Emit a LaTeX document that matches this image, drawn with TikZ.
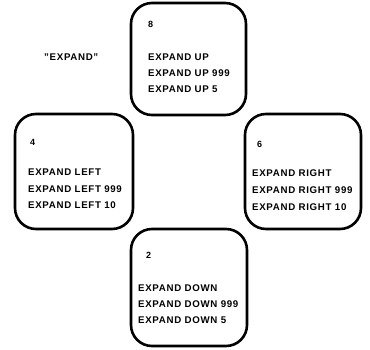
\documentclass[tikz,border=0pt]{standalone}
\usepackage{fontspec}
\setmainfont{Liberation Sans}[LetterSpace=7]
\begin{document}
\begin{tikzpicture}[x=1pt,y=-1pt,
  box/.style={draw=black,line width=2.6pt,rounded corners=21pt,inner sep=0pt},
  txt/.style={anchor=west,inner sep=0pt,font=\fontsize{9.7}{11}\selectfont\bfseries},
  num/.style={anchor=west,inner sep=0pt,font=\fontsize{9}{10}\selectfont\bfseries}]
\useasboundingbox (0,0) rectangle (370,349);
% boxes
\node[box,minimum width=115pt,minimum height=112pt] (bup) at (188.5,59) {};
\node[box,minimum width=118pt,minimum height=115pt] (bleft) at (74,171.5) {};
\node[box,minimum width=116pt,minimum height=115pt] (bright) at (303,171.5) {};
\node[box,minimum width=116pt,minimum height=117pt] (bdown) at (189,287.5) {};
% title
\node[txt] (title) at (44,57) {"EXPAND"};
% up
\node[num] (n8) at (148,24) {8};
\node[txt] (u1) at (148,57) {EXPAND UP};
\node[txt] (u2) at (148,73) {EXPAND UP 999};
\node[txt] (u3) at (148,89) {EXPAND UP 5};
% left
\node[num] (n4) at (30,142) {4};
\node[txt] (l1) at (28,172) {EXPAND LEFT};
\node[txt] (l2) at (28,189) {EXPAND LEFT 999};
\node[txt] (l3) at (28,205) {EXPAND LEFT 10};
% right
\node[num] (n6) at (257,144) {6};
\node[txt] (r1) at (252,173) {EXPAND RIGHT};
\node[txt] (r2) at (252,190) {EXPAND RIGHT 999};
\node[txt] (r3) at (252,207) {EXPAND RIGHT 10};
% down
\node[num] (n2) at (146,255) {2};
\node[txt] (d1) at (138,288) {EXPAND DOWN};
\node[txt] (d2) at (138,304) {EXPAND DOWN 999};
\node[txt] (d3) at (138,320) {EXPAND DOWN 5};
\end{tikzpicture}
\end{document}
